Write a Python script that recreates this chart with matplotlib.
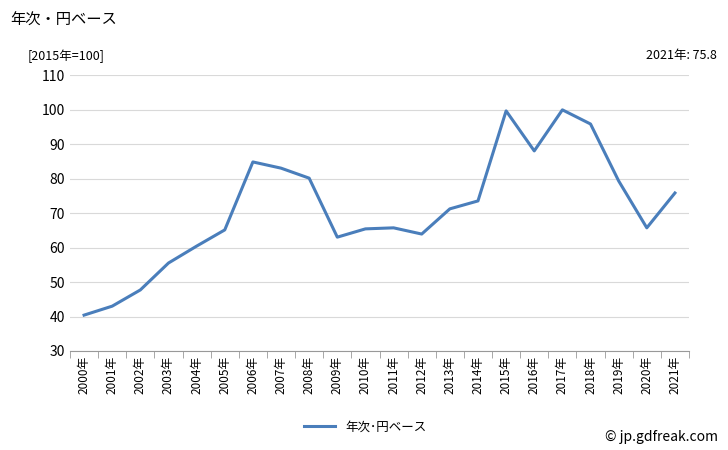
import matplotlib
matplotlib.use("Agg")
import matplotlib.pyplot as plt

plt.rcParams['font.family'] = ['Noto Sans CJK JP', 'DejaVu Sans']

years = [f"{y}年" for y in range(2000, 2022)]
values = [40.4, 43.0, 47.7, 55.5, 60.4, 65.1, 84.8, 83.0, 80.1, 63.0, 65.4, 65.7,
          63.9, 71.2, 73.5, 99.6, 88.0, 99.9, 95.8, 79.3, 65.7, 75.8]
yticks = [30, 40, 50, 60, 70, 80, 90, 100, 110]

fig = plt.figure(figsize=(7.28, 4.5), dpi=100)
ax = fig.add_axes([70/728, 1-351/450, (689-70)/728, (351-75)/450])
x = list(range(len(years)))
ax.plot(x, values, color='#4a7ebb', lw=2.2)
ax.set_xlim(-0.5, len(years)-0.5)
ax.set_ylim(30, 110)
ax.set_yticks(yticks)
ax.set_yticklabels([str(v) for v in yticks], fontsize=10)
ax.set_xticks(x)
ax.set_xticklabels(years, rotation=90, fontsize=8.5)
ax.set_xticks([i-0.5 for i in range(len(years)+1)], minor=True)
ax.tick_params(axis='x', which='major', length=0)
ax.tick_params(axis='x', which='minor', length=5, color='#999999')
ax.tick_params(axis='y', length=0)
ax.grid(axis='y', color='#d9d9d9', lw=0.8)
for s in ['top', 'right', 'left']:
    ax.spines[s].set_visible(False)
ax.spines['bottom'].set_color('#999999')

fig.text(10/728, 1-20/450, '年次・円ベース', fontsize=11, va='center')
fig.text(28/728, 1-56/450, '[2015年=100]', fontsize=9, va='center')
fig.text(717/728, 1-56/450, '2021年: 75.8', fontsize=9, va='center', ha='right')
fig.legend([ax.lines[0]], ['年次･円ベース'], loc='center', bbox_to_anchor=(365/728, 1-427/450),
           frameon=False, fontsize=9, handlelength=2.5)
fig.text(718/728, 1-437/450, '© jp.gdfreak.com', fontsize=10, ha='right', va='center')
fig.savefig('out.png', dpi=100)
